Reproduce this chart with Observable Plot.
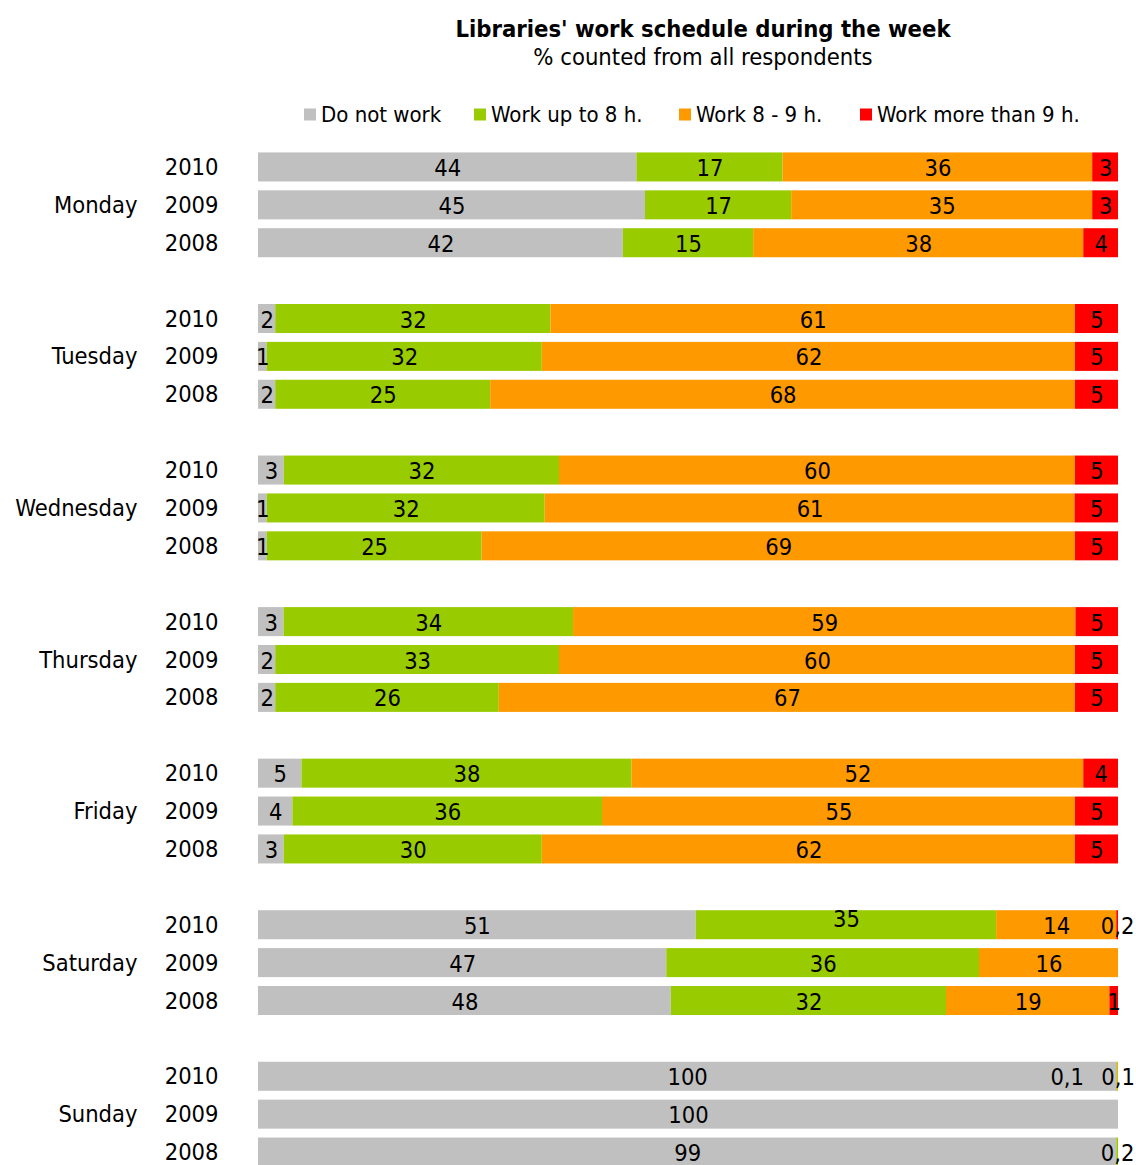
<!DOCTYPE html>
<html>
<head>
<meta charset="utf-8">
<script src="https://cdn.jsdelivr.net/npm/d3@7"></script>
<script src="https://cdn.jsdelivr.net/npm/@observablehq/plot@0.6"></script>
<style>
  html, body { margin: 0; padding: 0; background: #fff; }
  body { width: 1136px; font-family: "DejaVu Sans Condensed", "DejaVu Sans", sans-serif; color: #000; }
  #header { position: relative; height: 140px; }
  .t { position: absolute; white-space: nowrap; transform: translate(-50%, -50%); }
  #title { left: 703px; top: 29px; font-weight: bold; font-size: 23.6px; }
  #subtitle { left: 703px; top: 57px; font-size: 23.6px; }
  .leg { position: absolute; top: 114px; transform: translateY(-50%); display: flex; align-items: center; font-size: 22px; white-space: nowrap; }
  .sw { width: 12px; height: 12px; margin-right: 5px; }
</style>
</head>
<body>
<div id="header">
  <div class="t" id="title">Libraries' work schedule during the week</div>
  <div class="t" id="subtitle">% counted from all respondents</div>
</div>
<div id="chart"></div>
<script>
const days = ["Monday", "Tuesday", "Wednesday", "Thursday", "Friday", "Saturday", "Sunday"];
const years = ["2010", "2009", "2008"];
const categories = ["Do not work", "Work up to 8 h.", "Work 8 - 9 h.", "Work more than 9 h."];
const colors = ["#C0C0C0", "#99CC00", "#FF9900", "#FF0000"];

// values ordered by day, then year (2010, 2009, 2008)
const doNotWork = [44, 45, 42,  2, 1, 2,  3, 1, 1,  3, 2, 2,  5, 4, 3,  51, 47, 48,  100, 100, 99];
const workUpTo8 = [17, 17, 15,  32, 32, 25,  32, 32, 25,  34, 33, 26,  38, 36, 30,  35, 36, 32,  0.1, 0, 0.2];
const work8to9  = [36, 35, 38,  61, 62, 68,  60, 61, 69,  59, 60, 67,  52, 55, 62,  14, 16, 19,  0.1, 0, 0];
const workOver9 = [3, 3, 4,  5, 5, 5,  5, 5, 5,  5, 5, 5,  4, 5, 5,  0.2, 0, 1,  0, 0, 0];

const series = [doNotWork, workUpTo8, work8to9, workOver9];

const rows = [];
const yDomain = [];
days.forEach((day, di) => {
  years.forEach((year, yi) => {
    const key = day + " " + year;
    yDomain.push(key);
    categories.forEach((cat, ci) => {
      rows.push({day, year, key, category: cat, value: series[ci][di * 3 + yi]});
    });
  });
  if (di < days.length - 1) yDomain.push("gap" + di);
});

const fmt = v => String(v).replace(".", ",");
// labels that were moved by hand in the original
const moved = [
  {day: "Sunday", year: "2010", category: "Work up to 8 h.", dx: -50, dy: 1},
  {day: "Saturday", year: "2010", category: "Work up to 8 h.", dx: 0, dy: -6}
];
const movedOf = d => moved.find(m => m.day === d.day && m.year === d.year && m.category === d.category);
const labelRows = days.flatMap(day => years.map(year => ({day, year, key: day + " " + year})));

// legend
const header = document.getElementById("header");
const legX = [304, 474, 679, 860];
categories.forEach((c, i) => {
  const el = document.createElement("div");
  el.className = "leg";
  el.style.left = legX[i] + "px";
  el.innerHTML = `<span class="sw" style="background:${colors[i]}"></span><span>${c}</span>`;
  header.appendChild(el);
});

const stackOpts = {x: "value", y: "key", z: "category", offset: "normalize", order: categories};

const chart = Plot.plot({
  width: 1136,
  height: 1031,
  marginTop: 8,
  marginBottom: 0,
  marginLeft: 258,
  marginRight: 18,
  style: {fontFamily: "'DejaVu Sans Condensed', 'DejaVu Sans', sans-serif", fontSize: "23.5px", color: "#000", background: "#fff"},
  x: {axis: null, domain: [0, 1]},
  y: {axis: null, domain: yDomain, paddingInner: 0.234, paddingOuter: 0.117, round: false},
  color: {domain: categories, range: colors},
  marks: [
    Plot.barX(rows, Plot.stackX({...stackOpts, fill: "category"})),
    Plot.text(rows, Plot.stackX({
      ...stackOpts,
      text: d => (d.value > 0 && !movedOf(d)) ? fmt(d.value) : null,
      fill: "#000", dy: 1
    })),
    ...moved.map(m => Plot.text(rows, Plot.stackX({
      ...stackOpts,
      text: d => movedOf(d) === m ? fmt(d.value) : null,
      fill: "#000", dx: m.dx, dy: m.dy
    }))),
    Plot.text(labelRows, {
      y: "key", text: "year", frameAnchor: "left", dx: -40, textAnchor: "end", fill: "#000"
    }),
    Plot.text(labelRows.filter(d => d.year === "2009"), {
      y: "key", text: "day", frameAnchor: "left", dx: -121, textAnchor: "end", fill: "#000"
    })
  ]
});
document.getElementById("chart").appendChild(chart);
</script>
</body>
</html>
